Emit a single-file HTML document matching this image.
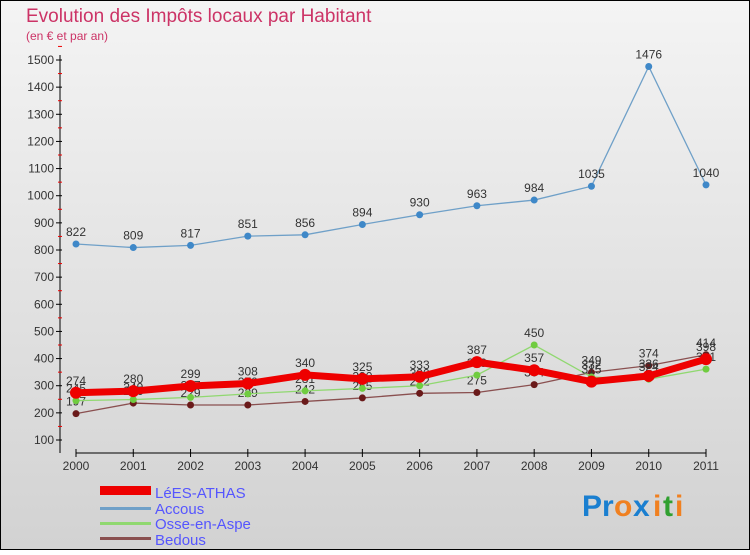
<!DOCTYPE html>
<html><head><meta charset="utf-8"><style>
body{margin:0;width:750px;height:550px;overflow:hidden;font-family:"Liberation Sans",sans-serif}
</style></head><body>
<svg id="c" width="750" height="550" xmlns="http://www.w3.org/2000/svg">
<defs>
<linearGradient id="bg" x1="0" y1="0" x2="0" y2="1"><stop offset="0" stop-color="#f4f4f4"/><stop offset="1" stop-color="#d2d2d2"/></linearGradient>
</defs>
<rect x="0.5" y="0.5" width="749" height="549" fill="url(#bg)" stroke="#000"/>
<text x="26" y="22" font-size="19" fill="#cc3366">Evolution des Impôts locaux par Habitant</text>
<text x="26" y="40" font-size="12" fill="#cc3366">(en € et par an)</text>
<g id="axes"></g>
<g id="series"></g>
<g id="legend">
<rect x="100" y="486" width="51" height="9" fill="#e00"/>
<text x="155" y="498" font-size="15" fill="#5555ff">LéES-ATHAS</text>
<rect x="100" y="507" width="51" height="3" fill="#6fa0c8"/>
<text x="155" y="514" font-size="15" fill="#5555ff">Accous</text>
<rect x="100" y="522" width="51" height="3" fill="#90d870"/>
<text x="155" y="529" font-size="15" fill="#5555ff">Osse-en-Aspe</text>
<rect x="100" y="537" width="51" height="3" fill="#8a5050"/>
<text x="155" y="545" font-size="15" fill="#5555ff">Bedous</text>
</g>
<g font-size="30" font-weight="bold">
<text x="582" y="516" fill="#1a7fd0">Pr</text><text x="614" y="516" fill="#f08020">o</text><text x="633" y="516" fill="#1a7fd0">x</text><text x="653" y="516" fill="#f08020">i</text><text x="663" y="516" fill="#30a030">t</text><text x="675" y="516" fill="#f08020">i</text>
</g>
</svg>
<script>
const years=["2000","2001","2002","2003","2004","2005","2006","2007","2008","2009","2010","2011"];
const yTicks=[100,200,300,400,500,600,700,800,900,1000,1100,1200,1300,1400,1500];
const lees=[274,280,299,308,340,325,333,387,357,315,336,398];
const accous=[822,809,817,851,856,894,930,963,984,1035,1476,1040];
const osse=[245,249,257,270,281,290,300,339,450,332,324,361];
const bedous=[197,236,229,229,242,255,272,275,304,349,374,414];
const NS="http://www.w3.org/2000/svg";
const X=i=>76+i*(706-76)/11;
const Y=v=>440-(v-100)*(380/1400);
function mk(t,a,p){const e=document.createElementNS(NS,t);for(const k in a)e.setAttribute(k,a[k]);p.appendChild(e);return e;}
const ax=document.getElementById('axes');
const yl=mk('line',{x1:60,y1:55,x2:60,y2:453,stroke:'#000'},ax);


const xl=mk('line',{x1:76,y1:453,x2:706,y2:453,stroke:'#000'},ax);


yTicks.forEach(v=>{
  const y=Y(v);
  mk('line',{x1:56,y1:y,x2:62,y2:y,stroke:'#000'},ax);
  mk('line',{x1:58,y1:Y(v+50),x2:62,y2:Y(v+50),stroke:'#e00'},ax);
  const t=mk('text',{x:54,y:y+4,'font-size':12,'text-anchor':'end',fill:'#333'},ax);
  t.textContent=v;
  
  
});
years.forEach((yr,i)=>{
  mk('line',{x1:X(i),y1:449,x2:X(i),y2:457,stroke:'#000'},ax);
  const t=mk('text',{x:X(i),y:470,'font-size':12,'text-anchor':'middle',fill:'#333'},ax);
  t.textContent=yr;
  
  
});
const sg=document.getElementById('series');
function draw(vals,color,w,r,dot,name){
  const g=mk('g',{},sg);
  
  
  const p=mk('polyline',{points:vals.map((v,i)=>X(i)+','+Y(v)).join(' '),fill:'none',stroke:color,'stroke-width':w},g);
  
  
  vals.forEach((v,i)=>{
    const c=mk('circle',{cx:X(i),cy:Y(v),r:r,fill:dot},g);
    
    
    const t=mk('text',{x:X(i),y:Y(v)-8,'font-size':12,'text-anchor':'middle',fill:'#333'},g);
    t.textContent=v;
    
    
  });
}
draw(bedous,'#8a5050',1.3,3.5,'#6a1a1a','bedous');
draw(osse,'#90d870',1.3,3.5,'#70cc40','osse-en-aspe');
draw(lees,'#ee0000',7,6,'#ee0000','lees-athas');
draw(accous,'#6fa0c8',1.3,3.5,'#3f88c8','accous');
</script>
</body></html>
